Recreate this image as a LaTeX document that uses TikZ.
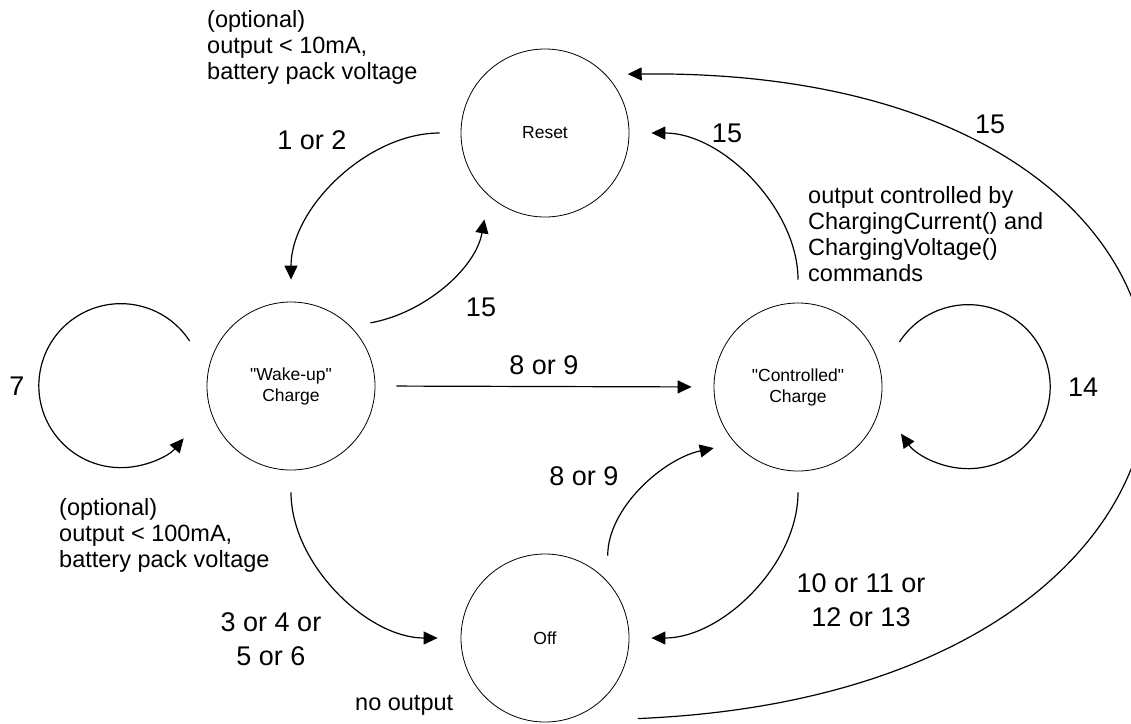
\documentclass[tikz,border=0pt]{standalone}
\usepackage{fontspec}
\setmainfont{Liberation Sans}
\usetikzlibrary{arrows.meta}

\begin{document}
\begin{tikzpicture}[
        x=1pt, y=-1pt,
        state/.style={circle, draw, line width=0.8pt, minimum size=168pt, inner sep=0pt, align=center, font=\fontsize{17.5}{21}\selectfont},
        arrow/.style={-{Triangle[length=14pt, width=13pt]}, line width=1.2pt},
        num/.style={font=\fontsize{27}{34}\selectfont, align=center, inner sep=0pt},
        note/.style={font=\fontsize{23.5}{26}\selectfont, align=left, anchor=base west, inner sep=0pt}
    ]
        \useasboundingbox (0,0) rectangle (1131,723);
        % states
        \node[state] (R) at (545,133) {Reset};
        \node[state] (W) at (291,386) {\textquotedbl Wake-up\textquotedbl\\Charge};
        \node[state] (C) at (798,387) {\textquotedbl Controlled\textquotedbl\\Charge};
        \node[state] (O) at (545,638) {Off};

        % transitions
        \draw[arrow, shorten <=21pt, shorten >=22pt] (R.west) to[out=180, in=90] (W.north);
        \draw[arrow, shorten <=20pt, shorten >=24pt] (W.45) to[out=10, in=-100] (R.228);
        \draw[arrow, shorten <=21pt, shorten >=22pt] (W.east) -- (C.west);
        \draw[arrow, shorten <=23pt, shorten >=22pt] (C.north) to[out=90, in=0] (R.east);
        \draw[arrow, shorten <=22pt, shorten >=23pt] (W.south) to[out=-90, in=180] (O.west);
        \draw[arrow, shorten <=21pt, shorten >=22pt] (C.south) to[out=-90, in=0] (O.east);
        \draw[arrow, shorten <=26pt, shorten >=22pt] (O.42) to[out=90, in=192] (C.222);
        \draw[arrow, shorten <=93pt, shorten >=22pt] (O.south) .. controls +(772,-32) and +(713,-8) .. (R.44);
        \draw[arrow] ([xshift=-17pt, yshift=45pt]W.west) arc[start angle=33, end angle=320, radius=82pt];
        \draw[arrow] ([xshift=17pt, yshift=45pt]C.east) arc[start angle=147, end angle=-145, radius=82pt];

        % transition labels
        \node[num] (l12) at (312,140) {1 or 2};
        \node[num] (l15a) at (481,307) {15};
        \node[num] (l89a) at (544,365) {8 or 9};
        \node[num] (l15b) at (727,133) {15};
        \node[num] (l15c) at (990,124) {15};
        \node[num] (l7) at (17,386) {7};
        \node[num] (l14) at (1083,387) {14};
        \node[num] (l89b) at (584,476) {8 or 9};
        \node[num] (l1013) at (861,600) {10 or 11 or\\12 or 13};
        \node[num] (l36) at (271,639) {3 or 4 or\\5 or 6};

        % outputs (base = last line)
        \node[note] (nR) at (207,79) {(optional)\\output < 10mA,\\battery pack voltage};
        \node[note] (nC) at (808,281) {output controlled by\\ChargingCurrent() and\\ChargingVoltage()\\commands};
        \node[note] (nW) at (59,567) {(optional)\\output < 100mA,\\battery pack voltage};
        \node[note] (nO) at (355,710) {no output};
    \end{tikzpicture}
\end{document}
